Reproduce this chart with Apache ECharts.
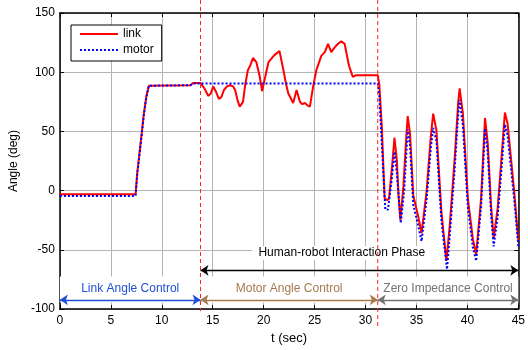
<!DOCTYPE html>
<html>
<head>
<meta charset="utf-8">
<script src="https://cdn.jsdelivr.net/npm/echarts@6/dist/echarts.min.js"></script>
<style>
  html, body { margin: 0; padding: 0; background: #fff; }
  #chart { width: 528px; height: 350px; }
</style>
</head>
<body>
<div id="chart"></div>
<script>
// link angle [t (sec), deg]
const linkData = [
  [0, -3], [7.43, -3], [7.59, 15], [7.92, 40], [8.24, 65], [8.47, 79], [8.73, 88.6],
  [12.8, 89], [13.1, 91], [13.8, 91],
  [14.2, 86], [14.57, 80], [14.8, 82], [15.05, 88], [15.3, 84], [15.6, 77.5], [15.85, 79],
  [16.1, 85], [16.4, 88], [16.7, 89], [17.0, 88], [17.2, 85], [17.45, 76], [17.65, 71],
  [17.97, 75], [18.2, 90], [18.45, 101.7], [18.7, 106], [18.95, 112], [19.28, 108.6],
  [19.6, 97], [19.85, 84], [20.2, 98], [20.48, 108.6], [21.0, 114], [21.55, 118],
  [21.94, 101.7], [22.2, 90], [22.42, 82], [22.9, 74], [23.23, 85], [23.56, 75], [23.8, 73],
  [24.05, 74], [24.3, 72], [24.54, 71], [24.86, 88], [25.18, 102], [25.67, 114], [26.0, 117],
  [26.32, 124], [26.64, 117], [26.97, 121], [27.3, 124], [27.62, 126], [27.95, 124],
  [28.36, 106], [28.75, 96], [29.08, 97.5], [31.2, 97.5],
  [31.35, 90], [31.6, 54], [31.87, -6], [32.1, -8], [32.3, -7], [32.58, 18], [32.84, 44.7],
  [33.07, 26], [33.25, -5], [33.42, -24.7], [33.72, 4], [34.0, 45], [34.14, 63], [34.37, 48],
  [34.69, -4], [35.18, -22], [35.5, -35.8], [35.99, -1], [36.4, 45], [36.64, 65], [36.96, 51],
  [37.45, -18], [37.94, -59.4], [38.27, -29], [38.75, 27], [39.1, 75], [39.24, 86.4],
  [39.56, 65], [40.05, -7], [40.54, -41], [40.86, -53.9], [41.34, -7], [41.73, 61.4],
  [42.0, 40], [42.32, -12], [42.58, -40], [42.97, -15], [43.29, 21], [43.68, 66], [43.94, 57],
  [44.6, -1], [45, -42]
]

// motor angle [t (sec), deg]
const motorData = [
  [0, -4.5], [7.43, -4.5], [7.59, 14], [7.92, 39], [8.24, 64], [8.47, 78], [8.73, 88.6],
  [12.8, 89], [13.1, 90.5], [31.2, 90.5],
  [31.35, 80], [31.6, 40], [31.94, -16], [32.2, -16], [32.58, 10], [32.84, 32.8], [33.07, 15],
  [33.46, -27.5], [33.8, 0], [34.14, 51.7], [34.37, 38], [34.69, -12], [35.18, -30],
  [35.5, -42.8], [35.99, -8], [36.4, 35], [36.64, 53], [36.96, 42], [37.45, -25], [38.0, -66.4],
  [38.27, -38], [38.75, 18], [39.1, 65], [39.24, 76.7], [39.56, 55], [40.05, -14], [40.54, -48],
  [40.86, -59.4], [41.34, -14], [41.73, 52.2], [42.0, 32], [42.32, -20], [42.58, -47],
  [42.97, -22], [43.29, 12], [43.68, 55.8], [43.94, 47], [44.6, -8], [45, -47]
]

// phase switch times and labels
const phaseBounds = [13.8, 31.2]
const phaseNames = ["Link Angle Control", "Motor Angle Control", "Zero Impedance Control"]
const phaseColors = ["#1f4fd6", "#a57a4e", "#737373"]
const interactionLabel = "Human-robot Interaction Phase"

const xTicks = { min: 0, max: 45, interval: 5 }
const yTicks = { min: -100, max: 150, interval: 50 }

const FONT = "Liberation Sans"
const chart = echarts.init(document.getElementById("chart"))

const phaseEdges = [xTicks.min, ...phaseBounds, xTicks.max]
const phaseArrowY = -92.2
const interactionArrowY = -67.3

const arrowLines = phaseNames.map((name, i) => [
  {
    coord: [phaseEdges[i], phaseArrowY],
    lineStyle: { color: phaseColors[i], width: 1.3, type: "solid" },
    label: {
      show: true,
      formatter: name,
      position: "insideMiddleTop",
      distance: 5,
      color: phaseColors[i],
      fontSize: 12,
      fontFamily: FONT,
    },
  },
  { coord: [phaseEdges[i + 1], phaseArrowY] },
])
arrowLines.push([
  {
    coord: [phaseBounds[0], interactionArrowY],
    lineStyle: { color: "#000", width: 1.3, type: "solid" },
    label: { show: false },
  },
  { coord: [xTicks.max, interactionArrowY] },
])

const frameAxis = {
  axisLine: { onZero: false, lineStyle: { color: "#000", width: 1.5 } },
  axisTick: { inside: true, length: 4, lineStyle: { color: "#000" } },
}

chart.setOption({
  animation: false,
  grid: { left: 59, right: 6, top: 13, bottom: 38 },
  legend: {
    left: 71,
    top: 25,
    orient: "vertical",
    backgroundColor: "#fff",
    borderColor: "#000",
    borderWidth: 1,
    borderRadius: 0,
    padding: [3, 8, 5, 8],
    itemWidth: 38,
    itemHeight: 14,
    itemGap: 4,
    itemStyle: { opacity: 0 },
    textStyle: { fontSize: 12, fontFamily: FONT, color: "#000" },
    data: ["link", "motor"],
  },
  xAxis: [
    {
      type: "value",
      ...xTicks,
      ...frameAxis,
      name: "t (sec)",
      nameLocation: "middle",
      nameGap: 19,
      nameTextStyle: { fontSize: 13, fontFamily: FONT, color: "#000" },
      axisLabel: { fontSize: 12, fontFamily: FONT, color: "#000", margin: 6 },
      splitLine: { show: true, lineStyle: { color: "#b4b4b4", width: 1 } },
    },
    {
      type: "value",
      ...xTicks,
      ...frameAxis,
      position: "top",
      axisLabel: { show: false },
      splitLine: { show: false },
    },
  ],
  yAxis: [
    {
      type: "value",
      ...yTicks,
      ...frameAxis,
      name: "Angle (deg)",
      nameLocation: "middle",
      nameGap: 31,
      nameTextStyle: { fontSize: 12, fontFamily: FONT, color: "#000" },
      axisLabel: { fontSize: 12, fontFamily: FONT, color: "#000", margin: 5 },
      splitLine: { show: true, lineStyle: { color: "#b4b4b4", width: 1 } },
    },
    {
      type: "value",
      ...yTicks,
      ...frameAxis,
      position: "right",
      axisLabel: { show: false },
      splitLine: { show: false },
    },
  ],
  series: [
    {
      // annotations: white bands hiding the grid, arrows and phase labels
      name: "annotations",
      type: "line",
      data: [],
      silent: true,
      markArea: {
        silent: true,
        itemStyle: { color: "#fff" },
        data: [
          [{ coord: [xTicks.min, -72.5] }, { coord: [xTicks.max, -94.5] }],
          [
            {
              coord: [18.9, -47],
              label: {
                show: true,
                formatter: interactionLabel,
                position: "insideLeft",
                distance: 6,
                color: "#000",
                fontSize: 12,
                fontFamily: FONT,
              },
            },
            { coord: [37.7, -58.5] },
          ],
        ],
      },
      markLine: {
        silent: true,
        symbol: ["arrow", "arrow"],
        symbolSize: [8, 8],
        data: arrowLines,
      },
    },
    {
      name: "link",
      type: "line",
      data: linkData,
      showSymbol: false,
      symbol: "none",
      lineStyle: { color: "#ff0000", width: 2 },
      itemStyle: { color: "#ff0000" },
      z: 3,
    },
    {
      name: "motor",
      type: "line",
      data: motorData,
      showSymbol: false,
      symbol: "none",
      lineStyle: { color: "#0000ff", width: 2, type: [2, 2] },
      itemStyle: { color: "#0000ff" },
      z: 4,
    },
    {
      // red dashed phase boundaries, drawn past the plot frame
      name: "bounds",
      type: "custom",
      silent: true,
      clip: false,
      z: 6,
      data: phaseBounds.map((t, i) => [t, i]),
      renderItem: (params, api) => {
        const top = api.coord([api.value(0), yTicks.max])
        const bottom = api.coord([api.value(0), yTicks.min])
        const extra = api.value(1) === 0 ? 2 : 18
        return {
          type: "line",
          shape: { x1: top[0], y1: top[1] - 13, x2: bottom[0], y2: bottom[1] + extra },
          style: { stroke: "#ff2020", lineWidth: 1, lineDash: [4, 3] },
        }
      },
    },
  ],
})
</script>
</body>
</html>
